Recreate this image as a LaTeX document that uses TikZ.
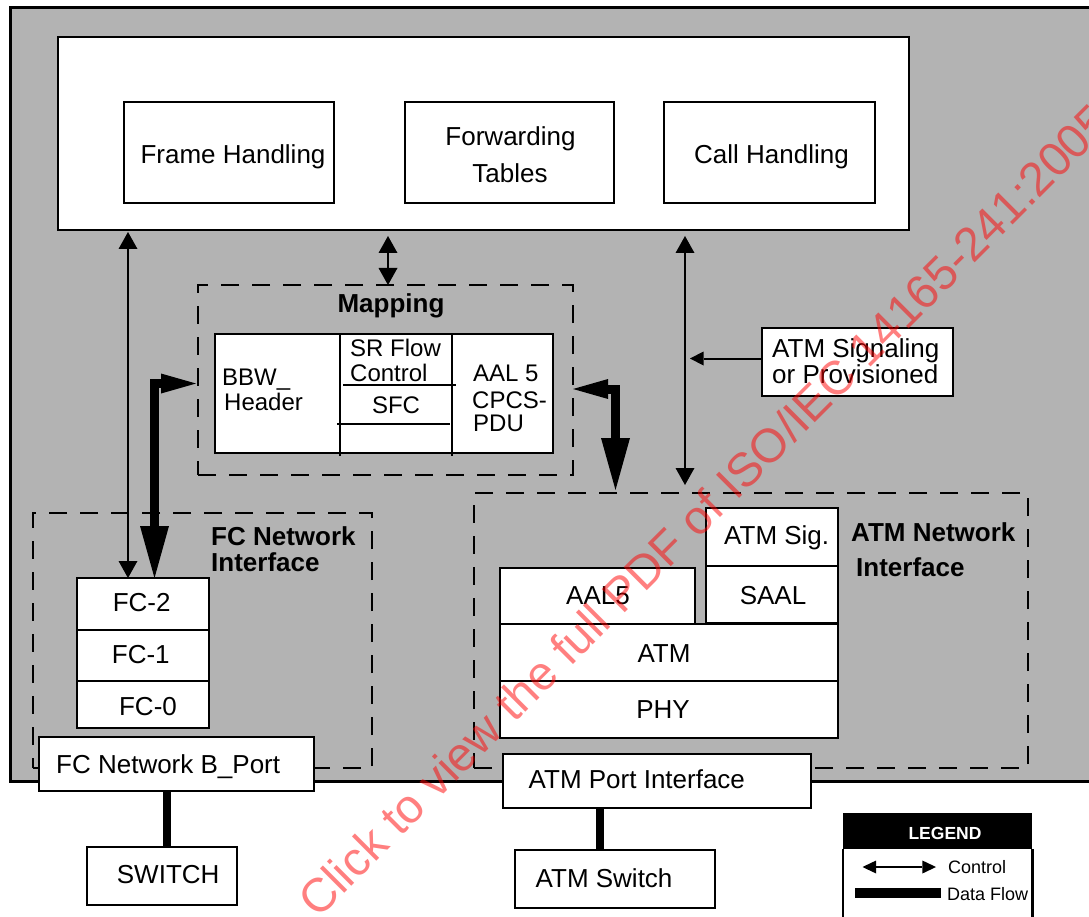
\documentclass[tikz,border=0pt]{standalone}
\usepackage{fontspec}
\setmainfont{Liberation Sans}
\usetikzlibrary{arrows.meta}

\definecolor{panelgray}{RGB}{179,179,179}

\begin{document}
\begin{tikzpicture}[x=1pt,y=-1pt,
  box/.style={draw, fill=white, line width=2pt, inner sep=0pt, outer sep=0pt},
  frame/.style={draw, line width=2pt, dash pattern=on 18pt off 13pt, inner sep=0pt, outer sep=0pt},
  lbl/.style={inner sep=0pt, font=\fontsize{26}{26}\selectfont},
  small/.style={inner sep=0pt, font=\fontsize{24}{24}\selectfont},
  heavy/.style={inner sep=0pt, font=\fontsize{26}{26}\selectfont\bfseries},
  tiny/.style={inner sep=0pt, font=\fontsize{18}{18}\selectfont},
  ctrl/.style={line width=2pt,
    {Triangle[length=17pt,width=19pt,line width=0pt]}-{Triangle[length=17pt,width=19pt,line width=0pt]}},
  flow/.style={line width=9pt, line join=miter,
    {Triangle[length=35pt,width=20pt,line width=0pt]}-{Triangle[length=52pt,width=29pt,line width=0pt]}},
  link/.style={line width=8pt}
]
\useasboundingbox (0,0) rectangle (1089,917);
\clip (0,0) rectangle (1089,917);

% grey system panel
\draw[line width=3pt, fill=panelgray] (10.5,7.5) rectangle (1100,781.5);

% control plane
\node[box, minimum width=851pt, minimum height=193pt] (top) at (483.5,133.5) {};
\node[box, minimum width=210pt, minimum height=101pt] (fh) at (229,152.5) {};
\node[box, minimum width=209pt, minimum height=101pt] (ft) at (509.5,153) {};
\node[box, minimum width=211pt, minimum height=101pt] (ch) at (769.5,153) {};
\node[lbl, anchor=base] (fhT) at (233,163.3) {Frame Handling};
\node[lbl, anchor=base] (ftT1) at (510.5,145.5) {Forwarding};
\node[lbl, anchor=base] (ftT2) at (510,183) {Tables};
\node[lbl, anchor=base] (chT) at (771.5,163.3) {Call Handling};

% mapping block
\node[frame, minimum width=375pt, minimum height=190pt] (map) at (385.5,380) {};
\node[heavy, anchor=base] (mapT) at (391,312.7) {Mapping};
\node[box, minimum width=338pt, minimum height=119pt] (mapin) at (384,393.5) {};
\draw[line width=1.5pt] (340,334) -- (340,456);
\draw[line width=1.5pt] (452,334) -- (452,456);
\draw[line width=1.5pt] (343,385) -- (456,385);
\draw[line width=1.5pt] (337,424) -- (450,424);
\node[small, anchor=base west] (bbw1) at (222,385) {BBW\_};
\node[small, anchor=base west] (bbw2) at (224,410) {Header};
\node[small, anchor=base west] (sr1) at (350,356) {SR Flow};
\node[small, anchor=base west] (sr2) at (350,381) {Control};
\node[small, anchor=base] (sfc) at (396,413) {SFC};
\node[small, anchor=base west] (pdu1) at (473,381) {AAL 5};
\node[small, anchor=base west] (pdu2) at (472,408) {CPCS-};
\node[small, anchor=base west] (pdu3) at (473,431) {PDU};

% signalling source
\node[box, minimum width=191pt, minimum height=68pt] (sig) at (857.5,361.5) {};
\node[lbl, anchor=base west] (sigT1) at (772,357) {ATM Signaling};
\node[lbl, anchor=base west] (sigT2) at (772,383) {or Provisioned};

% FC network interface
\node[frame, minimum width=339pt, minimum height=255pt] (fcif) at (202.5,640.5) {};
\node[heavy, anchor=base west] (fcifT1) at (211,545) {FC Network};
\node[heavy, anchor=base west] (fcifT2) at (211,571.7) {Interface};
\node[box, minimum width=132pt, minimum height=52pt] (fc2) at (143,604) {};
\node[box, minimum width=132pt, minimum height=51pt] (fc1) at (143,655.5) {};
\node[box, minimum width=132pt, minimum height=47pt] (fc0) at (143,704.5) {};
\node[lbl, anchor=base] (fc2T) at (141.7,611.7) {FC-2};
\node[lbl, anchor=base] (fc1T) at (140.8,663.3) {FC-1};
\node[lbl, anchor=base] (fc0T) at (148,715) {FC-0};

% ATM network interface
\node[frame, minimum width=554pt, minimum height=275pt] (atmif) at (751,630.5) {};
\node[heavy, anchor=base west] (atmifT1) at (851,541.7) {ATM Network};
\node[heavy, anchor=base west] (atmifT2) at (856,576.7) {Interface};
\node[box, minimum width=132pt, minimum height=58pt] (asig) at (772,537) {};
\node[box, minimum width=132pt, minimum height=57pt] (saal) at (772,594.5) {};
\node[box, minimum width=195pt, minimum height=56pt] (aal) at (597.5,596) {};
\node[box, minimum width=338pt, minimum height=57pt] (atm) at (669,652.5) {};
\node[box, minimum width=338pt, minimum height=57pt] (phy) at (669,709.5) {};
\node[lbl, anchor=base west] (asigT) at (724,544) {ATM Sig.};
\node[lbl, anchor=base] (saalT) at (773,604.3) {SAAL};
\node[lbl, anchor=base] (aalT) at (598,604.3) {AAL5};
\node[lbl, anchor=base] (atmT) at (664,662.7) {ATM};
\node[lbl, anchor=base] (phyT) at (663,718.3) {PHY};

% ports and switches
\node[box, minimum width=275pt, minimum height=54pt] (bport) at (176.5,764) {};
\node[lbl, anchor=base west] (bportT) at (56,773.3) {FC Network B\_Port};
\node[box, minimum width=150pt, minimum height=58pt] (sw) at (162,876) {};
\node[lbl, anchor=base west] (swT) at (116.7,883.3) {SWITCH};
\node[box, minimum width=308.5pt, minimum height=54pt] (aport) at (656.75,781) {};
\node[lbl, anchor=base west] (aportT) at (528.5,788.3) {ATM Port Interface};
\node[box, minimum width=200pt, minimum height=58pt] (asw) at (615,879) {};
\node[lbl, anchor=base west] (aswT) at (535.5,887.7) {ATM Switch};

\draw[link] (bport.south -| 167,0) -- (sw.north -| 167,0);
\draw[link] (aport.south -| 600,0) -- (asw.north -| 600,0);

% control connectors
\draw[ctrl] ([yshift=-2pt]top.south -| 128,0) -- (fc2.north -| 128,0);
\draw[ctrl, shorten <=6pt] (top.south -| 388,0) -- (map.north -| 388,0);
\draw[ctrl, shorten <=6pt, shorten >=8pt] (top.south -| 685,0) -- (atmif.north -| 685,0);
\draw[line width=2pt, -{Triangle[length=13.5pt,width=14pt,line width=0pt]}, shorten >=2pt]
  ([yshift=3pt]sig.west) -- ([yshift=3pt]sig.west -| 688,0);

% data flow connectors
\draw[flow] ([xshift=-2pt]map.west |- 0,383.5) -| (fc2.north -| 154.5,0);
\draw[flow, shorten >=3pt] (map.east |- 0,389) -| (atmif.north -| 615.5,0);

% legend
\node[draw, fill=black, line width=2.5pt, inner sep=0pt, minimum width=187pt, minimum height=34pt] (leg) at (937.5,831) {};
\draw[line width=2.5pt] (leg.south west) -- ++(0,80);
\draw[line width=2.5pt] (leg.south east) -- ++(0,80);
\node[inner sep=0pt, anchor=base, text=white, font=\fontsize{17.5}{17.5}\selectfont\bfseries] (legT) at (945,839.3) {LEGEND};
\node[tiny, anchor=base west] (legC) at (948,873.3) {Control};
\node[tiny, anchor=base west] (legD) at (947,900) {Data Flow};
\coordinate (lcA) at (862.5,867);
\coordinate (lcB) at (936,867);
\draw[line width=2pt, {Triangle[length=13.6pt,width=13pt,line width=0pt]}-{Triangle[length=13.6pt,width=13pt,line width=0pt]}] (lcA) -- (lcB);
\coordinate (ldA) at (855,893);
\coordinate (ldB) at (941,893);
\draw[line width=10pt] (ldA) -- (ldB);

% watermark
\node[rotate=45, anchor=base west, inner sep=0pt, text=red, text opacity=0.5,
      font=\fontsize{47.5}{47.5}\selectfont] (wm) at (318,920)
  {Click to view the full PDF of ISO/IEC 14165-241:2005};
\end{tikzpicture}
\end{document}
